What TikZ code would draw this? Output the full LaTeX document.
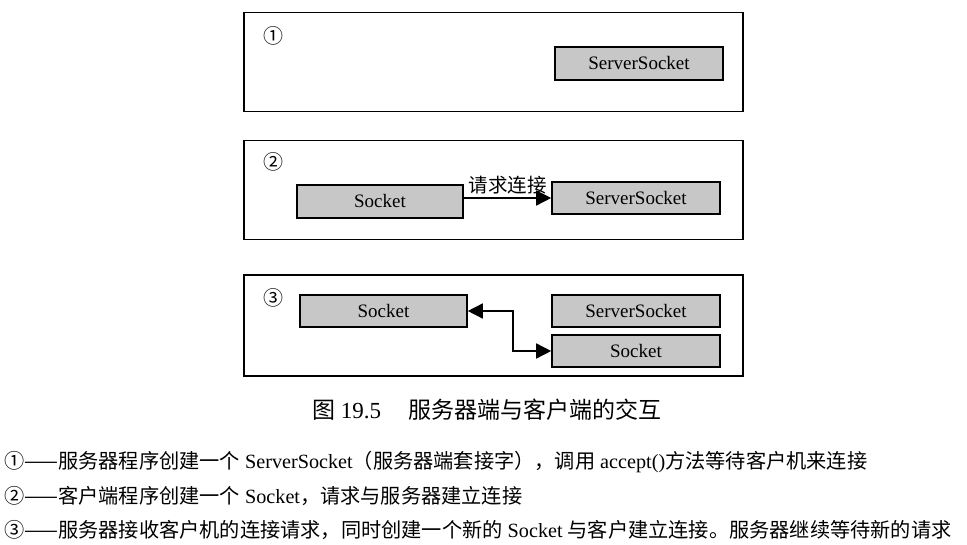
\documentclass[tikz,border=0pt]{standalone}
\usepackage{fontspec}
\setmainfont{Liberation Serif}
\newfontfamily\cjk{Noto Sans CJK SC}
\usetikzlibrary{arrows.meta}
\newcommand{\zh}[1]{{\cjk #1}}
\begin{document}
\begin{tikzpicture}[x=1pt,y=-1pt,
  frame/.style={draw=black,line width=1.8pt,minimum width=499pt,minimum height=99pt,inner sep=0pt},
  sock/.style={draw=black,line width=1.6pt,fill=black!22,minimum width=168pt,minimum height=33pt,inner sep=0pt,font=\fontsize{19}{20}\selectfont},
  num/.style={font=\fontsize{20}{20}\selectfont\cjk,inner sep=0pt},
  conn/.style={line width=1.5pt,-{Triangle[length=15pt,width=15pt]}},
  bconn/.style={line width=1.5pt,{Triangle[length=15pt,width=15pt]}-{Triangle[length=15pt,width=15pt]}},
  txt/.style={font=\fontsize{20.2}{22}\selectfont,inner sep=0pt,anchor=west}
]
\useasboundingbox (0,0) rectangle (967,545);
% frames
\node[frame] (f1) at (493.5,62) {};
\node[frame] (f2) at (493.5,190) {};
\node[frame,minimum height=101pt] (f3) at (493.5,325.5) {};
\node[num] (n1) at (273,36) {①};
\node[num] (n2) at (273,162) {②};
\node[num] (n3) at (273,298) {③};
% panel 1
\node[sock] (ss1) at (639,63.5) {ServerSocket};
% panel 2
\node[sock,minimum width=166pt] (s2) at (380,201.5) {Socket};
\node[sock,minimum height=32pt] (ss2) at (636,198) {ServerSocket};
\draw[conn] (s2.east |- ss2.west) -- node[above=3pt,font=\fontsize{19.5}{20}\selectfont\cjk,inner sep=0pt] (lb) {请求连接} (ss2.west);
% panel 3
\node[sock,minimum width=167pt,minimum height=32pt] (s3a) at (383.5,311) {Socket};
\node[sock,minimum height=32pt] (ss3) at (636,311) {ServerSocket};
\node[sock,minimum height=32pt] (s3b) at (636,351) {Socket};
\coordinate (k) at (513,330);
\draw[bconn] (s3a.east) -- (s3a.east -| k) |- (s3b.west);
% caption
\node[font=\fontsize{23}{24}\selectfont,inner sep=0pt,anchor=west] (cap) at (312,410) {\zh{图} 19.5\hspace{1.2em}\zh{服务器端与客户端的交互}};
% legend
\node[txt] (l1) at (4,462) {\zh{①——服务器程序创建一个} ServerSocket\zh{（服务器端套接字），调用} accept()\zh{方法等待客户机来连接}};
\node[txt] (l2) at (4,496) {\zh{②——客户端程序创建一个} Socket\zh{，请求与服务器建立连接}};
\node[txt] (l3) at (4,530) {\zh{③——服务器接收客户机的连接请求，同时创建一个新的} Socket \zh{与客户建立连接。服务器继续等待新的请求}};
\end{tikzpicture}
\end{document}
